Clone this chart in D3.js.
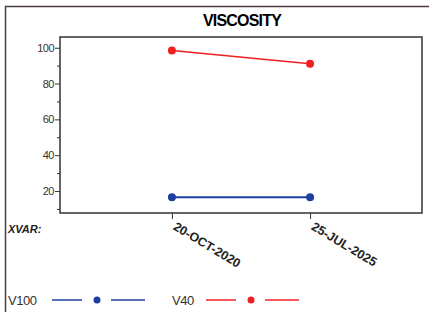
<!DOCTYPE html>
<html>
<head>
<meta charset="utf-8">
<script src="https://cdn.jsdelivr.net/npm/d3@7"></script>
<style>
  body { margin: 0; background: #fff; }
  svg { display: block; font-family: Arial, "Liberation Sans", sans-serif; }
</style>
</head>
<body>
<div id="chart"></div>
<script>
// data
const dates = ["20-OCT-2020", "25-JUL-2025"];
const v100 = [16.5, 16.5];
const v40 = [98.5, 91];
const yTicks = [20, 40, 60, 80, 100];
const yMinor = [10, 30, 50, 70, 90];

const W = 429, H = 312;
const margin = {top: 37, right: 7, bottom: 99, left: 60};
const width = W - margin.left - margin.right,
      height = H - margin.top - margin.bottom;

const svg = d3.select("#chart").append("svg")
    .attr("width", W).attr("height", H);

// outer frame
svg.append("path")
    .attr("d", "M5.5,320 L5.5,6.5 L435,6.5")
    .attr("fill", "none").attr("stroke", "#4a3f3a").attr("stroke-width", 1.5);

svg.append("text")
    .attr("x", 242).attr("y", 26)
    .attr("text-anchor", "middle")
    .style("font-size", "16px").style("font-weight", "bold")
    .style("letter-spacing", "-0.8px")
    .text("VISCOSITY");

const g = svg.append("g").attr("transform", `translate(${margin.left},${margin.top})`);

const x = d3.scalePoint().domain(dates).range([0, width]).padding(0.81);
const y = d3.scaleLinear().domain([7.7, 106]).range([height, 0]);

// plot frame
g.append("rect").attr("width", width).attr("height", height)
    .attr("fill", "none").attr("stroke", "#333").attr("stroke-width", 1.5);

const yAxis = g.append("g")
    .call(d3.axisLeft(y).tickValues(yTicks).tickSize(5).tickPadding(1));
yAxis.select(".domain").remove();
yAxis.selectAll("text").style("font-size", "11px").attr("fill", "#333")
    .style("letter-spacing", "-0.5px");
yAxis.selectAll("line").attr("stroke", "#333");

g.append("g")
    .call(d3.axisLeft(y).tickValues(yMinor).tickSize(3).tickFormat(""))
    .call(a => a.select(".domain").remove())
    .selectAll("line").attr("stroke", "#333");

const xAxis = g.append("g").attr("transform", `translate(0,${height})`)
    .call(d3.axisBottom(x).tickSize(6).tickPadding(2));
xAxis.select(".domain").remove();
xAxis.selectAll("line").attr("stroke", "#333");
xAxis.selectAll("text")
    .attr("y", 0).attr("dy", 0)
    .attr("text-anchor", "start")
    .attr("transform", "translate(0,16) rotate(31)")
    .style("font-size", "12.5px").style("font-weight", "bold")
    .style("letter-spacing", "0px")
    .attr("fill", "#222");

svg.append("text")
    .attr("x", 8).attr("y", 233)
    .style("font-size", "11px").style("font-weight", "bold").style("font-style", "italic")
    .attr("fill", "#222")
    .text("XVAR:");

const series = [
  {name: "V100", values: v100, color: "#1f3f9f", lw: 2},
  {name: "V40", values: v40, color: "#f02020", lw: 1.5}
];

const line = d3.line().x((d, i) => x(dates[i])).y(d => y(d));

series.forEach(s => {
  g.append("path").datum(s.values)
      .attr("d", line).attr("fill", "none")
      .attr("stroke", s.color).attr("stroke-width", s.lw);
  g.selectAll(null).data(s.values).enter().append("circle")
      .attr("cx", (d, i) => x(dates[i])).attr("cy", d => y(d))
      .attr("r", 4).attr("fill", s.color);
});

// legend
const legX = [8, 172];
series.forEach((s, i) => {
  const lg = svg.append("g").attr("transform", `translate(${legX[i]},300)`);
  lg.append("text").attr("x", 0).attr("y", 4.5)
      .style("font-size", "13px").attr("fill", "#333")
      .style("letter-spacing", "-0.5px").text(s.name);
  const off = i === 0 ? 44 : 34;
  lg.append("line").attr("x1", off).attr("x2", off + 30).attr("y1", 0).attr("y2", 0)
      .attr("stroke", s.color).attr("stroke-width", 1.5);
  lg.append("circle").attr("cx", off + 45).attr("cy", 0).attr("r", 3.5).attr("fill", s.color);
  lg.append("line").attr("x1", off + 59).attr("x2", off + 93).attr("y1", 0).attr("y2", 0)
      .attr("stroke", s.color).attr("stroke-width", 1.5);
});
</script>
</body>
</html>
